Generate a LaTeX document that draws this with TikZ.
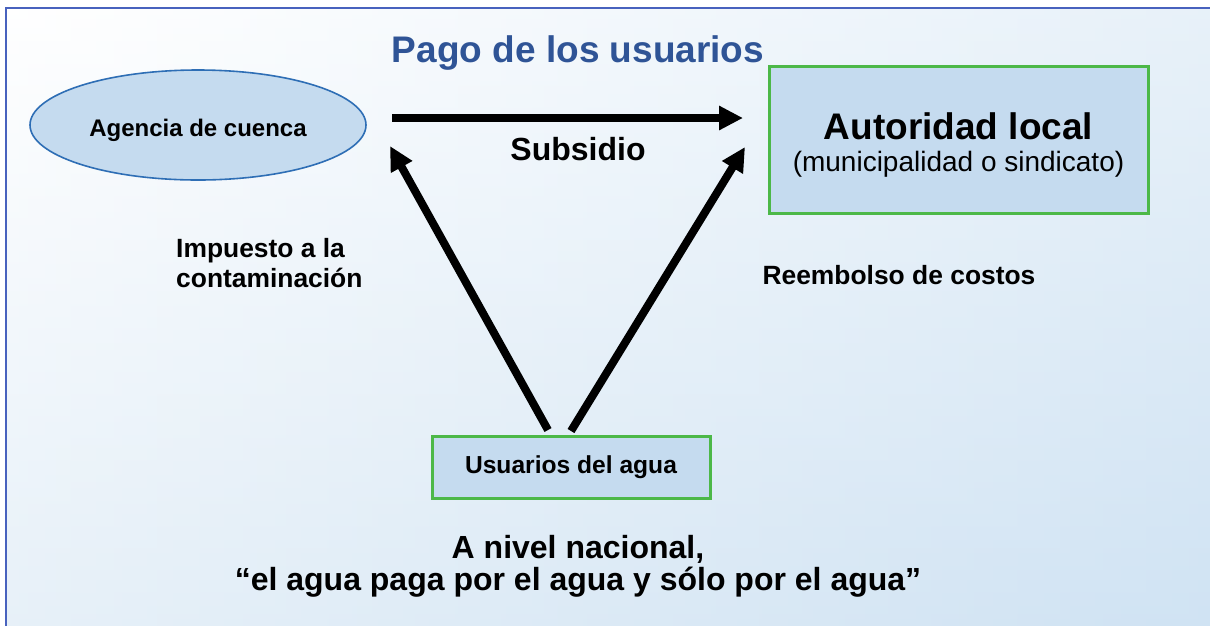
\documentclass[tikz,border=0pt]{standalone}
\usepackage{fontspec}
\setmainfont{Liberation Sans}
\usetikzlibrary{arrows.meta,shapes.geometric}

\definecolor{boxfill}{RGB}{197,219,239}
\definecolor{boxgreen}{RGB}{76,184,72}
\definecolor{ovalblue}{RGB}{46,110,181}
\definecolor{framecol}{RGB}{72,98,190}
\definecolor{bgblue}{RGB}{208,227,243}
\definecolor{titleblue}{RGB}{47,84,150}

\begin{document}
\begin{tikzpicture}[x=1pt,y=-1pt,
  box/.style = {draw=boxgreen, line width=3pt, fill=boxfill,
  rectangle, inner sep=0pt},
  oval/.style = {draw=ovalblue, line width=1.6pt, fill=boxfill,
  ellipse, inner sep=0pt},
  txt/.style = {inner sep=0pt, font=\bfseries\fontsize{26.4}{30}\selectfont},
  flow/.style = {line width=7.5pt, -{Triangle[length=24pt,width=23pt]}}
  ]

  \useasboundingbox (0,0) rectangle (1210,625);
  \clip (0,0) rectangle (1210,625);

  % background and frame
  \shade[left color=white, right color=bgblue] (6,8) rectangle (1210,625);
  \shade[top color=white, bottom color=bgblue, opacity=0.5] (6,8) rectangle (1210,625);
  \draw[framecol, line width=2pt] (6,8) rectangle (1230,640);

  \node[oval, minimum width=336pt, minimum height=110pt, text height=27pt, text depth=5pt,
  font=\bfseries\fontsize{24}{30}\selectfont] (agencia) at (198,125) {Agencia de cuenca};
  \node[box, minimum width=379pt, minimum height=147pt, align=center,
  font=\fontsize{28}{32}\selectfont] (autoridad) at (958.5,139.5)
  {\rule{0pt}{37pt}{\bfseries\fontsize{37}{37}\selectfont Autoridad local}\\(municipalidad o sindicato)};
  \node[box, minimum width=278pt, minimum height=62pt,
  font=\bfseries\fontsize{24.6}{30}\selectfont] (usuarios) at (571,467) {Usuarios del agua};

  \node[txt, anchor=base, text=titleblue, font=\bfseries\fontsize{37}{44}\selectfont]
  (titulo) at (578,62) {Pago de los usuarios};
  \node[txt, anchor=base, font=\bfseries\fontsize{32}{36}\selectfont] (subsidio) at (578,160) {Subsidio};
  \node[txt, anchor=base west, align=left] (impuesto) at (176,287) {Impuesto a la\\contaminación};
  \node[txt, anchor=base] (reembolso) at (899,284) {Reembolso de costos};
  \node[txt, anchor=base, align=center, font=\bfseries\fontsize{32}{32}\selectfont]
  (lema) at (578,590) {A nivel nacional,\\“el agua paga por el agua y sólo por el agua”};

  % arrows
  \coordinate (s1) at (392,118);
  \coordinate (s2) at (743,118);
  \coordinate (l1) at (548,430);
  \coordinate (l2) at (390,146);
  \coordinate (r1) at (571,431);
  \coordinate (r2) at (745,147);

  \draw[flow] (s1) -- (s2);
  \draw[flow, line width=8pt] (l1) -- (l2);
  \draw[flow, line width=8pt] (r1) -- (r2);

\end{tikzpicture}
\end{document}
